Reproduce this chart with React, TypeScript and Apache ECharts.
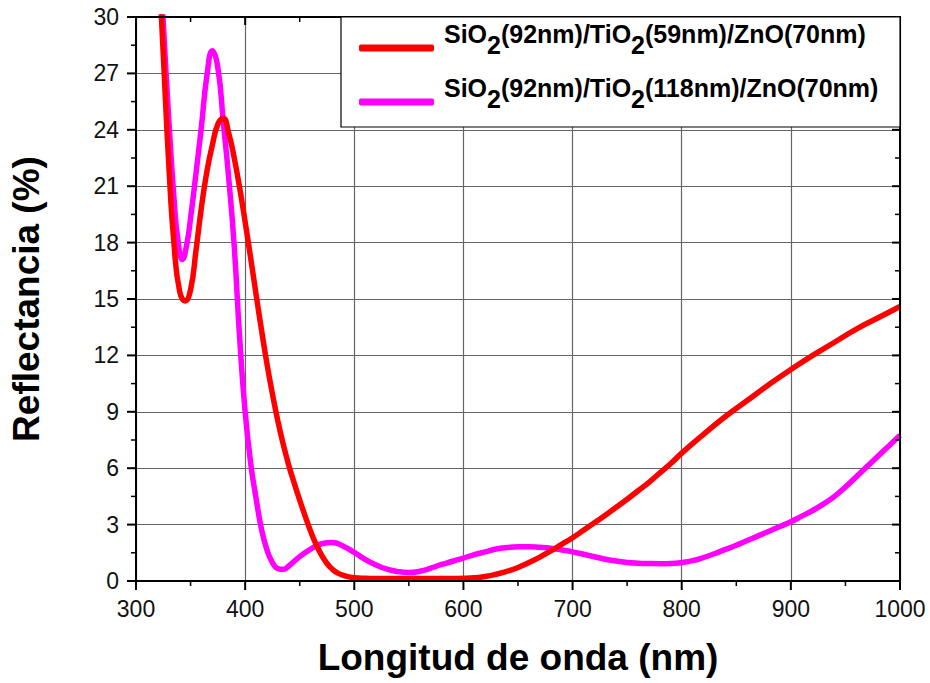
import React, { useEffect, useRef } from "react";
import * as echarts from "echarts";

const xTicks = [300, 400, 500, 600, 700, 800, 900, 1000];
const xMinorTicks = [350, 450, 550, 650, 750, 850, 950];
const yTicks = [0, 3, 6, 9, 12, 15, 18, 21, 24, 27, 30];
const yMinorTicks = [1.5, 4.5, 7.5, 10.5, 13.5, 16.5, 19.5, 22.5, 25.5, 28.5];

const seriesNames = [
  "SiO2(92nm)/TiO2(59nm)/ZnO(70nm)",
  "SiO2(92nm)/TiO2(118nm)/ZnO(70nm)",
];

const redX = [320, 325, 330, 335, 340, 345, 350, 355, 360, 365, 370, 375, 380, 385, 390, 395, 400, 405, 410, 415, 420, 425, 430, 435, 440, 445, 450, 455, 460, 465, 470, 475, 480, 485, 490, 495, 500, 510, 520, 530, 540, 550, 560, 570, 580, 590, 600, 610, 620, 630, 640, 650, 660, 670, 680, 690, 700, 710, 720, 730, 740, 750, 760, 770, 780, 790, 800, 820, 840, 860, 880, 900, 920, 940, 960, 980, 1000];
const redY = [33.8, 28.0, 22.2, 17.8, 15.4, 14.9, 15.5, 17.6, 19.9, 21.8, 23.2, 24.3, 24.6, 23.8, 22.5, 20.9, 19.1, 17.2, 15.25, 13.35, 11.55, 9.95, 8.5, 7.25, 6.15, 5.2, 4.3, 3.45, 2.65, 1.95, 1.38, 0.93, 0.62, 0.42, 0.3, 0.22, 0.17, 0.14, 0.13, 0.13, 0.13, 0.13, 0.13, 0.13, 0.13, 0.13, 0.14, 0.17, 0.24, 0.36, 0.52, 0.72, 0.98, 1.27, 1.6, 1.95, 2.3, 2.7, 3.1, 3.5, 3.92, 4.35, 4.8, 5.25, 5.75, 6.25, 6.8, 7.8, 8.75, 9.6, 10.45, 11.25, 12.0, 12.7, 13.4, 14.0, 14.6];

const magX = [320, 325, 330, 335, 338.5, 342.5, 346.5, 350, 355, 360, 365, 370, 375, 380, 385, 390, 395, 400, 405, 410, 415, 420, 425, 430, 435, 440, 450, 460, 470, 480, 490, 500, 510, 520, 530, 540, 550, 560, 570, 580, 590, 600, 610, 620, 630, 640, 650, 660, 670, 680, 690, 700, 710, 720, 730, 740, 750, 760, 770, 780, 790, 800, 810, 820, 830, 840, 850, 860, 870, 880, 890, 900, 910, 920, 930, 940, 950, 960, 970, 980, 990, 1000];
const magY = [35, 29.7, 24.6, 20.2, 18.1, 17.1, 17.9, 19.3, 21.7, 24.2, 26.9, 28.2, 27.3, 24.4, 21.4, 17.8, 12.9, 9.0, 6.3, 4.4, 2.75, 1.65, 0.98, 0.66, 0.62, 0.8, 1.3, 1.7, 1.98, 2.05, 1.85, 1.52, 1.15, 0.85, 0.63, 0.5, 0.45, 0.52, 0.68, 0.88, 1.05, 1.22, 1.4, 1.55, 1.7, 1.78, 1.82, 1.82, 1.79, 1.74, 1.65, 1.55, 1.42, 1.29, 1.16, 1.06, 0.99, 0.95, 0.93, 0.92, 0.93, 0.98, 1.08, 1.25, 1.45, 1.68, 1.9, 2.15, 2.4, 2.65, 2.9, 3.15, 3.45, 3.75, 4.1, 4.5, 5.0, 5.55, 6.1, 6.65, 7.2, 7.75];

const pair = (xs: number[], ys: number[]) => xs.map((x, i) => [x, ys[i]]);

const toRich = (name: string) =>
  name
    .split("O2")
    .map((part) => `{a|${part}}`)
    .join("{a|O}{s|2}");

const FONT = "Liberation Sans, Arial, sans-serif";
const X_MIN = xTicks[0];
const X_MAX = xTicks[xTicks.length - 1];
const Y_MIN = yTicks[0];
const Y_MAX = yTicks[yTicks.length - 1];

// tick marks drawn through the chart's own scales (api.coord)
const xTickSeries = (values: number[], lenOut: number, lenIn: number, w: number) => ({
  type: "custom",
  coordinateSystem: "cartesian2d",
  xAxisIndex: 0,
  yAxisIndex: 0,
  silent: true,
  clip: false,
  z: 5,
  data: values.map((v) => [v, Y_MIN]),
  renderItem: (_p: any, api: any) => {
    const v = api.value(0);
    const b = api.coord([v, Y_MIN]);
    const t = api.coord([v, Y_MAX]);
    return {
      type: "group",
      children: [
        { type: "line", shape: { x1: b[0], y1: b[1], x2: b[0], y2: b[1] + lenOut }, style: { stroke: "#000", lineWidth: w } },
        { type: "line", shape: { x1: t[0], y1: t[1], x2: t[0], y2: t[1] + lenIn }, style: { stroke: "#000", lineWidth: w } },
      ],
    };
  },
});

const yTickSeries = (values: number[], lenOut: number, lenIn: number, w: number) => ({
  type: "custom",
  coordinateSystem: "cartesian2d",
  xAxisIndex: 0,
  yAxisIndex: 0,
  silent: true,
  clip: false,
  z: 5,
  data: values.map((v) => [X_MIN, v]),
  renderItem: (_p: any, api: any) => {
    const v = api.value(1);
    const l = api.coord([X_MIN, v]);
    const r = api.coord([X_MAX, v]);
    return {
      type: "group",
      children: [
        { type: "line", shape: { x1: l[0] - lenOut, y1: l[1], x2: l[0], y2: l[1] }, style: { stroke: "#000", lineWidth: w } },
        { type: "line", shape: { x1: r[0] - lenIn, y1: r[1], x2: r[0], y2: r[1] }, style: { stroke: "#000", lineWidth: w } },
      ],
    };
  },
});

const frameSeries = {
  type: "custom",
  coordinateSystem: "cartesian2d",
  xAxisIndex: 0,
  yAxisIndex: 0,
  silent: true,
  clip: false,
  z: 5,
  data: [[X_MIN, Y_MIN]],
  renderItem: (_p: any, api: any) => {
    const p0 = api.coord([X_MIN, Y_MAX]);
    const p1 = api.coord([X_MAX, Y_MIN]);
    return {
      type: "rect",
      shape: { x: p0[0], y: p0[1], width: p1[0] - p0[0], height: p1[1] - p0[1] },
      style: { fill: "none", stroke: "#000", lineWidth: 2 },
    };
  },
};

export default function App() {
  const ref = useRef<HTMLDivElement>(null);
  useEffect(() => {
    if (!ref.current) return;
    const chart = echarts.init(ref.current, null, { renderer: "svg" });
    chart.setOption({
      animation: false,
      backgroundColor: "#fff",
      textStyle: { fontFamily: FONT },
      grid: { left: 136, right: 30, top: 17, bottom: 102 },
      xAxis: {
        type: "value",
        position: "bottom",
        min: X_MIN,
        max: X_MAX,
        interval: 100,
        name: "Longitud de onda (nm)",
        nameLocation: "middle",
        nameGap: 58,
        nameTextStyle: { fontSize: 37, fontWeight: "bold", color: "#000", fontFamily: FONT },
        axisLine: { show: true, onZero: false, lineStyle: { color: "#000", width: 2 } },
        axisTick: { show: false },
        axisLabel: { fontSize: 23, color: "#111", margin: 16, fontFamily: FONT, formatter: (v: number) => String(v) },
        splitLine: { show: true, lineStyle: { color: "#666", width: 1.2 } },
      },
      yAxis: {
        type: "value",
        position: "left",
        min: Y_MIN,
        max: Y_MAX,
        interval: 3,
        name: "Reflectancia (%)",
        nameLocation: "middle",
        nameGap: 91,
        nameTextStyle: { fontSize: 37, fontWeight: "bold", color: "#000", fontFamily: FONT },
        axisLine: { show: true, onZero: false, lineStyle: { color: "#000", width: 2 } },
        axisTick: { show: false },
        axisLabel: { fontSize: 23, color: "#111", margin: 17, fontFamily: FONT, formatter: (v: number) => String(v) },
        splitLine: { show: true, lineStyle: { color: "#666", width: 1.2 } },
      },
      graphic: [
        {
          type: "rect",
          z: 6,
          shape: { x: 341, y: 17, width: 559, height: 110 },
          style: { fill: "#fff", stroke: "#000", lineWidth: 1.2 },
        },
      ],
      legend: {
        z: 10,
        orient: "vertical",
        left: 359,
        top: 21,
        padding: 0,
        itemGap: 18,
        itemWidth: 75,
        itemHeight: 7,
        icon: "roundRect",
        data: [seriesNames[0], seriesNames[1]],
        formatter: (name: string) => toRich(name),
        textStyle: {
          padding: [0, 0, 18, 5],
          rich: {
            a: { fontSize: 25, fontWeight: "bold", color: "#000", fontFamily: FONT, verticalAlign: "top" },
            s: { fontSize: 25, fontWeight: "bold", color: "#000", fontFamily: FONT, verticalAlign: "top", padding: [11, 0, 0, 0] },
          },
        },
      },
      series: [
        {
          name: seriesNames[1],
          type: "line",
          data: pair(magX, magY),
          smooth: 0.5,
          symbol: "none",
          clip: true,
          z: 2,
          lineStyle: { color: "#ff00ff", width: 5.5 },
          itemStyle: { color: "#ff00ff" },
        },
        {
          name: seriesNames[0],
          type: "line",
          data: pair(redX, redY),
          smooth: 0.5,
          symbol: "none",
          clip: true,
          z: 2,
          lineStyle: { color: "#ff0000", width: 5.5 },
          itemStyle: { color: "#ff0000" },
        },
        frameSeries,
        xTickSeries(xTicks, 9, 8, 2),
        xTickSeries(xMinorTicks, 5, 5, 1.5),
        yTickSeries(yTicks, 9, 8, 2),
        yTickSeries(yMinorTicks, 5, 5, 1.5),
      ],
    });
    return () => chart.dispose();
  }, []);
  return (
    <div
      ref={ref}
      style={{ position: "fixed", left: 0, top: 0, width: 930, height: 683, background: "#fff" }}
    />
  );
}
